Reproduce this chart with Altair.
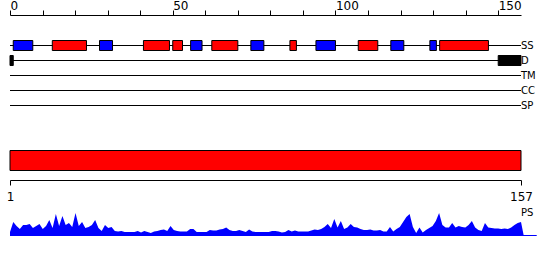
import altair as alt
import pandas as pd

# ---------------- data ----------------
tracks = ["SS", "D", "TM", "CC", "SP"]
seq_len = 157

ss_start = [1, 13, 27.5, 41, 50, 55.5, 62, 74, 86, 94, 107, 117, 129, 132]
ss_end = [7, 23.5, 31.5, 49, 53, 59, 70, 78, 88, 100, 113, 121, 131, 147]
ss_kind = ["E", "H", "E", "H", "H", "E", "H", "E", "H", "E", "H", "E", "E", "H"]

d_start = [0, 150]
d_end = [1, 157]

ps_values = [
    3, 13, 9, 6, 10, 10, 11, 7, 9, 11,
    6, 9, 15, 7, 21, 9, 19, 10, 12, 8,
    22, 9, 13, 7, 8, 10, 15, 7, 4, 10,
    7, 8, 4, 3.5, 4, 3, 3, 3, 3, 4,
    2.5, 4, 3, 2, 3.5, 4, 5, 5.5, 4, 9,
    5, 4, 3.5, 3.5, 3.5, 6, 6, 3, 3, 3,
    3, 5, 4.5, 4.5, 5.5, 6, 7.5, 5, 4, 4,
    5, 4, 3, 5.5, 3.5, 3, 3, 3, 3, 3,
    4, 4, 3.5, 2.5, 3, 5, 3.5, 4.5, 3.5, 3.5,
    3.5, 3.5, 4.5, 5.5, 5, 6, 8, 11, 7, 16,
    7.5, 14, 6, 7.5, 11, 8, 7.5, 6, 5, 5,
    5.5, 4.5, 4.5, 5, 3.5, 3.5, 8, 3.5, 6, 8,
    13, 18, 21, 8, 2, 7.5, 2.5, 5, 7, 9,
    14, 22, 10, 7.5, 7.5, 12, 7.5, 9, 8, 7.5,
    10, 14, 7.5, 5, 4, 12, 7.5, 7, 6.5, 6.5,
    6, 6.5, 6, 7.5, 10, 12, 13,
]

top_ticks = list(range(0, 151, 10))
bottom_ticks = [1, seq_len]

# ---------------- frames ----------------
tracks_df = pd.DataFrame({"track": tracks, "start": 0, "end": seq_len})
ss_df = pd.DataFrame({"start": ss_start, "end": ss_end, "kind": ss_kind, "track": "SS"})
d_df = pd.DataFrame({"start": d_start, "end": d_end, "track": "D"})
dom_df = pd.DataFrame({"start": [1], "end": [seq_len]})
ps_df = pd.DataFrame({"residue": list(range(1, seq_len + 1)) + [seq_len + 0.8],
                      "value": ps_values + [0]})
base_df = pd.DataFrame({"start": [1], "end": [seq_len + 4.8]})
ps_lab = pd.DataFrame({"x": [seq_len], "t": ["PS"]})

FONT = "DejaVu Sans"
H = 260
x_top = alt.Scale(domain=[0, seq_len], nice=False, zero=False)
x_bot = alt.Scale(domain=[1, seq_len], nice=False, zero=False)
y_track = alt.Scale(type="point", domain=tracks, range=[45.5, 105.5], padding=0)

top_axis = alt.Axis(orient="top", offset=-15, values=top_ticks,
                    labelExpr="datum.value % 50 == 0 ? datum.label : ''",
                    tickSize=5, labelAlign="left", labelBaseline="alphabetic",
                    labelPadding=1, labelFontSize=12, labelFont=FONT,
                    labelColor="black", domainColor="black", tickColor="black",
                    grid=False, title=None, labelFlush=False, labelOverlap=False)

bottom_axis = alt.Axis(orient="bottom", offset=180 - H, values=bottom_ticks,
                       tickSize=5, labelAlign="center", labelBaseline="alphabetic",
                       labelPadding=15, labelFontSize=12, labelFont=FONT,
                       labelColor="black", domainColor="black", tickColor="black",
                       grid=False, title=None, labelFlush=False, labelOverlap=False)

lines = alt.Chart(tracks_df).mark_rule(color="black", strokeWidth=1).encode(
    x=alt.X("start:Q", scale=x_top, axis=top_axis),
    x2="end:Q",
    y=alt.Y("track:N", scale=y_track, axis=None),
)

labels = alt.Chart(tracks_df).mark_text(align="left", baseline="middle", dx=0,
                                        fontSize=10, font=FONT, color="black").encode(
    x=alt.X("end:Q", scale=x_top, axis=None),
    y=alt.Y("track:N", scale=y_track, axis=None),
    text="track:N",
)

ss = alt.Chart(ss_df).mark_bar(size=10, stroke="black", strokeWidth=1).encode(
    x=alt.X("start:Q", scale=x_top, axis=None),
    x2="end:Q",
    y=alt.Y("track:N", scale=y_track, axis=None),
    color=alt.Color("kind:N", scale=alt.Scale(domain=["H", "E"], range=["#ff0000", "#0000ff"]),
                    legend=None),
)

dis = alt.Chart(d_df).mark_bar(size=10, color="black", stroke="black", strokeWidth=1).encode(
    x=alt.X("start:Q", scale=x_top, axis=None),
    x2="end:Q",
    y=alt.Y("track:N", scale=y_track, axis=None),
)

dom = alt.Chart(dom_df).mark_rect(color="#ff0000", stroke="black", strokeWidth=1).encode(
    x=alt.X("start:Q", scale=x_bot, axis=bottom_axis),
    x2="end:Q",
    y=alt.value(150.5),
    y2=alt.value(170.5),
)

ps_area = alt.Chart(ps_df).mark_area(color="#0000ff", interpolate="linear").encode(
    x=alt.X("residue:Q", scale=x_bot, axis=None),
    y=alt.Y("value:Q", scale=alt.Scale(domain=[0, 25], range=[235, 210]), axis=None),
)

ps_base = alt.Chart(base_df).mark_rule(color="#0000ff", strokeWidth=1).encode(
    x=alt.X("start:Q", scale=x_bot, axis=None),
    x2="end:Q",
    y=alt.value(235.5),
)

ps_text = alt.Chart(ps_lab).mark_text(align="left", baseline="alphabetic", fontSize=10,
                                      font=FONT, color="black").encode(
    x=alt.X("x:Q", scale=x_bot, axis=None),
    y=alt.value(216),
    text="t:N",
)

chart = alt.layer(lines, ss, dis, labels, dom, ps_area, ps_base, ps_text).resolve_scale(
    x="independent", y="independent"
).properties(
    width=511, height=H, autosize="none",
    padding={"left": 10, "top": 0, "right": 29, "bottom": 0},
    background="white",
).configure_view(strokeWidth=0)

chart.save("out.html", embed_options={"renderer": "svg", "actions": False})
